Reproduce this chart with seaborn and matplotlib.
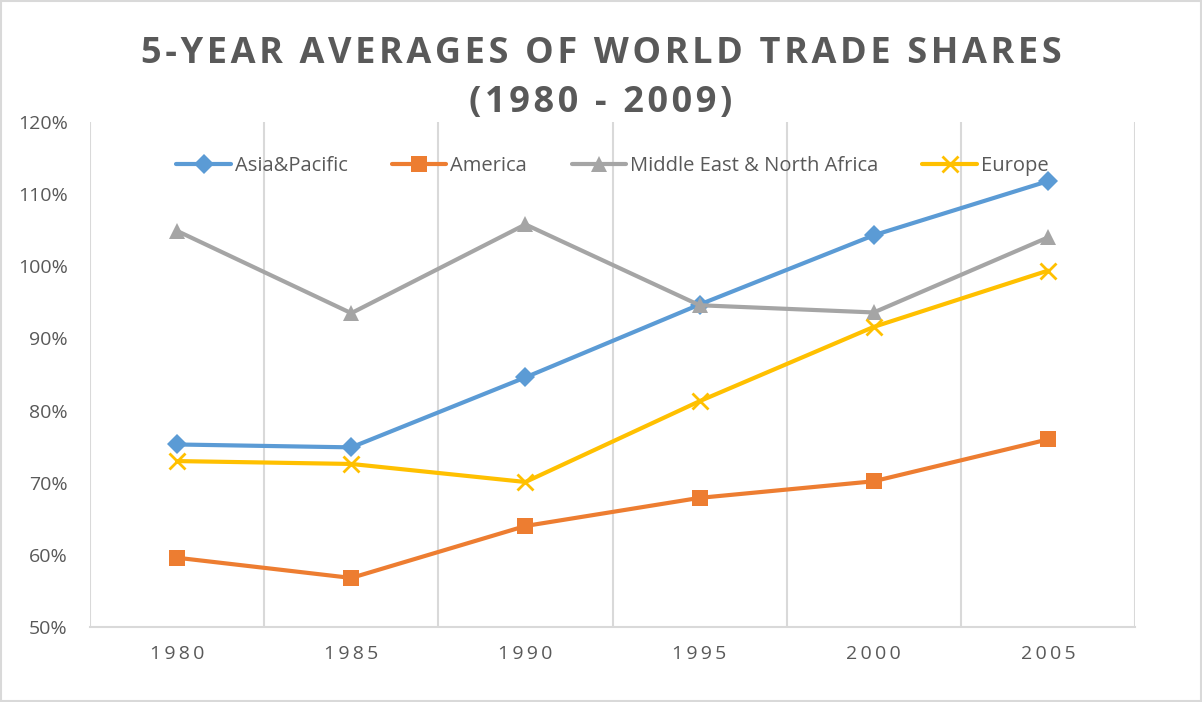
import matplotlib
matplotlib.use("Agg")
import matplotlib.pyplot as plt
import seaborn as sns
import pandas as pd
import numpy as np
from matplotlib.ticker import FixedLocator, PercentFormatter

years = ["1980", "1985", "1990", "1995", "2000", "2005"]
asia_pacific = [75.3, 74.9, 84.6, 94.7, 104.3, 111.8]
america = [59.6, 56.8, 64.0, 67.9, 70.2, 76.0]
mena = [104.9, 93.5, 105.8, 94.6, 93.6, 104.0]
europe = [73.0, 72.6, 70.1, 81.3, 91.6, 99.4]
series_names = ["Asia&Pacific", "America", "Middle East & North Africa", "Europe"]
colors = ["#5B9BD5", "#ED7D31", "#A5A5A5", "#FFC000"]
markers = ["D", "s", "^", "x"]
title_line1 = "5-YEAR AVERAGES OF WORLD TRADE SHARES"
title_line2 = "(1980 - 2009)"

sns.set_theme(style="white")
plt.rcParams["font.family"] = ["Open Sans", "DejaVu Sans"]

fig = plt.figure(figsize=(12.02, 7.02), dpi=100)
W, H = 1202, 702
ax = fig.add_axes([90 / W, 1 - 627 / H, (1135 - 90) / W, (627 - 122) / H])

msizes = {"D": 10, "s": 11.5, "^": 12, "x": 11.5}
for name, vals, c, m in zip(series_names, [asia_pacific, america, mena, europe], colors, markers):
    d = pd.DataFrame({"idx": range(len(years)), "value": vals})
    kw = dict(markeredgewidth=2, markeredgecolor=c) if m == "x" else dict(markeredgewidth=0)
    sns.lineplot(data=d, x="idx", y="value", color=c, marker=m, linewidth=3,
                 markersize=msizes[m], label=name, ax=ax, **kw)

ax.set_xlim(-0.5, 5.5)
ax.set_ylim(50, 120)
ax.set_xticks(range(len(years)))
ax.set_xticklabels(["\u2009".join(list(y)) for y in years])
ax.xaxis.set_minor_locator(FixedLocator(np.arange(-0.5, 6, 1)))
ax.grid(which="minor", axis="x", color="#D9D9D9", linewidth=1.5)
ax.grid(which="major", axis="both", visible=False)
ax.set_yticks(np.arange(50, 121, 10))
ax.yaxis.set_major_formatter(PercentFormatter(decimals=0))
ax.tick_params(axis="both", which="both", length=0, colors="#595959", labelsize=14)
ax.tick_params(axis="x", pad=13)
ax.tick_params(axis="y", pad=16)
for s in ["top", "right", "left"]:
    ax.spines[s].set_visible(False)
ax.spines["bottom"].set_color("#D9D9D9")
ax.spines["bottom"].set_linewidth(1.5)
ax.set_xlabel("")
ax.set_ylabel("")

handles, labels = ax.get_legend_handles_labels()
leg = ax.legend(handles, labels, loc="center", bbox_to_anchor=(0.5, (627 - 166) / (627 - 122)),
                ncol=4, frameon=False, fontsize=14.5, columnspacing=2.2,
                handlelength=2.7, handletextpad=0.2, borderpad=0)
for t in leg.get_texts():
    t.set_color("#595959")

def spaced(s):
    return "\u200a".join(list(s))

fig.text(0.5, 1 - 54 / H, spaced(title_line1), ha="center", va="center",
         fontsize=26, fontweight="bold", color="#595959")
fig.text(0.5, 1 - 103 / H, spaced(title_line2), ha="center", va="center",
         fontsize=26, fontweight="bold", color="#595959")

border = plt.Rectangle((0.001, 0.001), 0.998, 0.997, transform=fig.transFigure,
                       fill=False, edgecolor="#D9D9D9", linewidth=1.5)
fig.patches.append(border)

fig.savefig("out.png", dpi=100)
